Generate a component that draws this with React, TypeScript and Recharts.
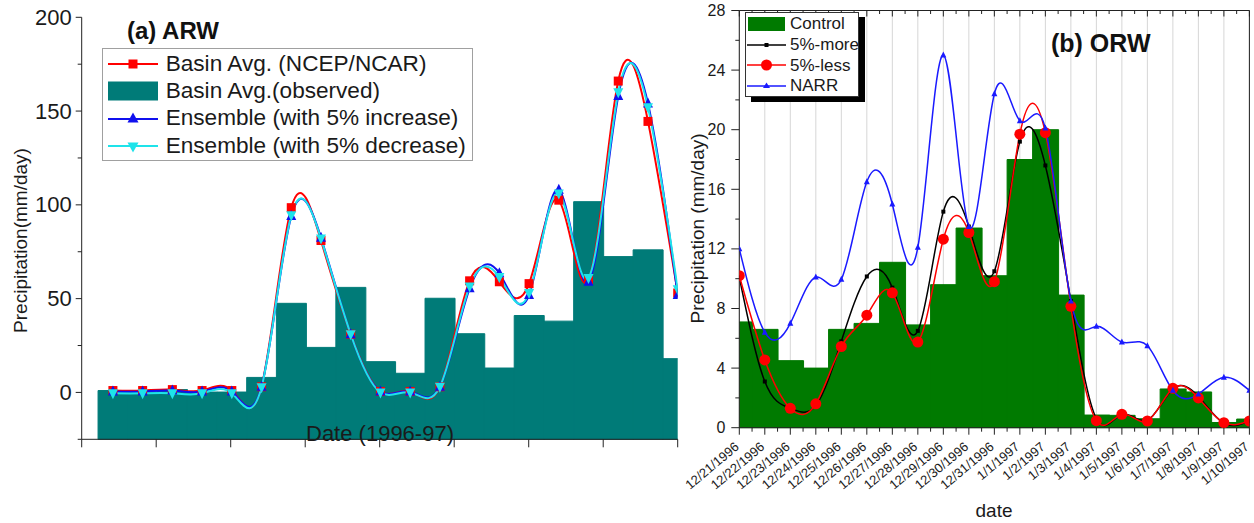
import { ComposedChart, Bar, Line, XAxis, YAxis, CartesianGrid, Legend, Label } from 'recharts';

// ---- panel (a) ARW: 20 daily values, x is the day index ----
const OBS_A = [1, 0.3, 1.5, 0.2, 0.2, 8, 47.5, 24, 56, 16.4, 10.2, 50.2, 31.3, 13, 41, 38, 101.7, 72.4, 76, 18];
const NCEP_A = [1, 1, 1.5, 1, 1, 3, 98.5, 81, 31, 0.5, 0.5, 3, 59.5, 59, 58, 102.5, 60, 166, 144.5, 53];
const INC_A = [0.5, 0.5, 1, 0.5, 0.5, 3, 94, 82.5, 31, 0.5, 0.5, 3, 55.5, 63.5, 52, 108, 59, 158, 154, 52];
const DEC_A = [-0.5, -0.5, -0.5, -0.5, -0.5, 2.7, 94.5, 82, 31, 0, 0, 3, 56.5, 61.5, 53, 106, 61, 160, 152, 55];

// ---- panel (b) ORW ----
const DATES_B = [
  '12/21/1996', '12/22/1996', '12/23/1996', '12/24/1996', '12/25/1996', '12/26/1996', '12/27/1996',
  '12/28/1996', '12/29/1996', '12/30/1996', '12/31/1996', '1/1/1997', '1/2/1997', '1/3/1997',
  '1/4/1997', '1/5/1997', '1/6/1997', '1/7/1997', '1/8/1997', '1/9/1997', '1/10/1997',
];
const CONTROL_B = [7.1, 6.6, 4.5, 4.0, 6.6, 7.0, 11.1, 6.9, 9.6, 13.4, 10.2, 18.0, 20.0, 8.9, 0.85, 0.83, 0.6, 2.6, 2.4, 0.35, 0.58];
const MORE_B = [10.1, 3.1, 1.3, 1.5, 5.8, 10.15, 9.4, 6.5, 14.5, 13.5, 10.5, 19.2, 17.6, 8.5, 0.6, 0.9, 0.5, 2.6, 2.1, 0.3, 0.45];
const LESS_B = [10.2, 4.55, 1.3, 1.6, 5.45, 7.55, 9.05, 5.75, 12.65, 13.1, 9.8, 19.7, 19.8, 8.15, 0.47, 0.9, 0.45, 2.64, 2.0, 0.34, 0.45];
const NARR_B = [12.0, 6.4, 7.0, 10.1, 9.95, 16.5, 15.0, 12.1, 25.0, 13.5, 22.4, 20.6, 20.1, 8.5, 6.8, 5.75, 5.5, 2.5, 2.26, 3.38, 2.5];

const A_Y_MIN = -25;
const A_Y_TICKS = [-25, 0, 25, 50, 75, 100, 125, 150, 175, 200];
const A_X_TICKS = [-1.05, 1.456, 3.963, 6.469, 8.975, 11.481, 13.988, 16.494, 19];
const B_Y_TICKS = [0, 2, 4, 6, 8, 10, 12, 14, 16, 18, 20, 22, 24, 26, 28];
const B_X_TICKS = DATES_B.map((_, i) => i);

const FONT = "'Liberation Sans', Arial, sans-serif";
const AXIS = '#222';
const TEXT = '#1a1a1a';
const TEAL = '#007b78';
const GREEN = '#007a00';
const CYAN = '#1ee3ea';
const BLUE_A = '#1010ee';
const BLUE_B = '#1a1aff';

const B_PLOT_W = 510.1;
const STEP_B = B_PLOT_W / 20;

const dataA = OBS_A.map((obs, i) => ({ i, obs, ncep: NCEP_A[i], inc: INC_A[i], dec: DEC_A[i] }));
const dataB = CONTROL_B.map((control, i) => ({ i, control, more: MORE_B[i], less: LESS_B[i], narr: NARR_B[i] }));

// marker shapes
const square = (color: string, s: number) => (p: any) => (
  <rect key={`sq-${color}-${p.index}`} x={p.cx - s / 2} y={p.cy - s / 2} width={s} height={s} fill={color} />
);
const triUp = (color: string, s: number) => (p: any) => (
  <polygon key={`tu-${color}-${p.index}`}
    points={`${p.cx},${p.cy - s * 0.6} ${p.cx - s / 2},${p.cy + s * 0.4} ${p.cx + s / 2},${p.cy + s * 0.4}`} fill={color} />
);
const triDown = (color: string, s: number) => (p: any) => (
  <polygon key={`td-${color}-${p.index}`}
    points={`${p.cx},${p.cy + s * 0.6} ${p.cx - s / 2},${p.cy - s * 0.4} ${p.cx + s / 2},${p.cy - s * 0.4}`} fill={color} />
);
const circle = (color: string, r: number) => (p: any) => (
  <circle key={`ci-${color}-${p.index}`} cx={p.cx} cy={p.cy} r={r} fill={color} />
);

const YTickA = ({ x, y, payload }: any) => {
  const major = payload.value % 50 === 0;
  return (
    <g>
      <line x1={x - (major ? 6 : 4)} x2={x} y1={y} y2={y} stroke={AXIS} />
      {major && (
        <text x={x - 10} y={y} textAnchor="end" dominantBaseline="central" fontSize={22} fill={TEXT} fontFamily={FONT}>
          {payload.value}
        </text>
      )}
    </g>
  );
};

const YTickB = ({ x, y, payload }: any) => {
  const major = payload.value % 4 === 0;
  return (
    <g>
      <line x1={x - (major ? 8 : 4)} x2={x} y1={y} y2={y} stroke={AXIS} />
      {major && (
        <text x={x - 14} y={y} textAnchor="end" dominantBaseline="central" fontSize={16} fill={TEXT} fontFamily={FONT}>
          {payload.value}
        </text>
      )}
    </g>
  );
};

const YTickBRight = ({ x, y, payload }: any) => {
  const major = payload.value % 4 === 0;
  return <line x1={x - (major ? 7 : 4)} x2={x} y1={y} y2={y} stroke={AXIS} />;
};

const XTickB = ({ x, y, payload }: any) => {
  const i = payload.value;
  const tx = x + 0.5;
  const ty = y + 20.5;
  return (
    <g>
      <line x1={x} x2={x} y1={y} y2={y + 7} stroke={AXIS} />
      {i < 20 && <line x1={x + STEP_B / 2} x2={x + STEP_B / 2} y1={y} y2={y + 4} stroke={AXIS} />}
      <text x={tx} y={ty} textAnchor="end" transform={`rotate(-40, ${tx}, ${ty})`} fontSize={13} fill={TEXT} fontFamily={FONT}>
        {DATES_B[i]}
      </text>
    </g>
  );
};

const XTickBTop = ({ x, y, payload }: any) => (
  <g>
    <line x1={x} x2={x} y1={y} y2={y + 6} stroke={AXIS} />
    {payload.value < 20 && <line x1={x + STEP_B / 2} x2={x + STEP_B / 2} y1={y} y2={y + 3.5} stroke={AXIS} />}
  </g>
);

const LegendA = () => {
  const rows = [
    { label: 'Basin Avg. (NCEP/NCAR)', kind: 'line', color: '#ff0000', mark: 'sq' },
    { label: 'Basin Avg.(observed)', kind: 'bar', color: TEAL, mark: '' },
    { label: 'Ensemble (with 5% increase)', kind: 'line', color: BLUE_A, mark: 'up' },
    { label: 'Ensemble (with 5% decrease)', kind: 'line', color: CYAN, mark: 'down' },
  ];
  return (
    <div style={{ width: 371, height: 113, boxSizing: 'border-box', border: '1.5px solid #a0a0a0', background: '#fff', paddingTop: 1 }}>
      {rows.map((r) => (
        <div key={r.label} style={{ display: 'flex', alignItems: 'center', height: 27.3 }}>
          <svg width={63} height={24} style={{ flex: 'none' }}>
            {r.kind === 'bar' ? (
              <rect x={5} y={2.5} width={50} height={19} fill={r.color} />
            ) : (
              <g>
                <line x1={5} x2={55} y1={12} y2={12} stroke={r.color} strokeWidth={2.2} />
                {r.mark === 'sq' && <rect x={25.5} y={7.5} width={9} height={9} fill={r.color} />}
                {r.mark === 'up' && <polygon points="30,5.5 24.5,15.5 35.5,15.5" fill={r.color} />}
                {r.mark === 'down' && <polygon points="30,18.5 24.5,8.5 35.5,8.5" fill={r.color} />}
              </g>
            )}
          </svg>
          <span style={{ fontFamily: FONT, fontSize: 22.6, color: TEXT, whiteSpace: 'nowrap', lineHeight: 1 }}>{r.label}</span>
        </div>
      ))}
    </div>
  );
};

const LegendB = () => {
  const rows = [
    { label: 'Control', kind: 'bar', color: GREEN },
    { label: '5%-more', kind: 'sq', color: '#000' },
    { label: '5%-less', kind: 'ci', color: '#ff0000' },
    { label: 'NARR', kind: 'up', color: BLUE_B },
  ];
  return (
    <div style={{ width: 114, height: 85, boxSizing: 'border-box', border: '1px solid #333', background: '#fff', boxShadow: '6px 5px 0 #000', paddingTop: 0.5 }}>
      {rows.map((r) => (
        <div key={r.label} style={{ display: 'flex', alignItems: 'center', height: 20.7 }}>
          <svg width={44} height={18} style={{ flex: 'none' }}>
            {r.kind === 'bar' ? (
              <rect x={2} y={2} width={37} height={14} fill={r.color} />
            ) : (
              <g>
                <line x1={1} x2={40} y1={9} y2={9} stroke={r.color} strokeWidth={1.5} />
                {r.kind === 'sq' && <rect x={18.5} y={7} width={4} height={4} fill={r.color} />}
                {r.kind === 'ci' && <circle cx={20.5} cy={9} r={5.5} fill={r.color} />}
                {r.kind === 'up' && <polygon points="20.5,5.5 17,11 24,11" fill={r.color} />}
              </g>
            )}
          </svg>
          <span style={{ fontFamily: FONT, fontSize: 17, color: TEXT, whiteSpace: 'nowrap', lineHeight: 1 }}>{r.label}</span>
        </div>
      ))}
    </div>
  );
};

const ChartA = () => (
  <ComposedChart width={700} height={523} data={dataA} barCategoryGap={0}
    margin={{ top: 17.3, right: 22.3, bottom: 53.7, left: 0 }}>
    <XAxis type="number" dataKey="i" domain={[-1.05, 19]} allowDataOverflow ticks={A_X_TICKS} interval={0}
      tickFormatter={() => ''} tickSize={8} height={30} stroke={AXIS} />
    <YAxis type="number" domain={[A_Y_MIN, 200]} ticks={A_Y_TICKS} interval={0} width={81.7}
      tick={YTickA} tickLine={false} tickSize={0} tickMargin={0} axisLine={{ stroke: AXIS }}>
      <Label content={() => (
        <text x={20} y={240.5} transform="rotate(-90, 20, 240.5)" textAnchor="middle" dominantBaseline="central"
          fontSize={19} fill={TEXT} fontFamily={FONT}>Precipitation(mm/day)</text>
      )} />
    </YAxis>
    <Legend layout="horizontal" verticalAlign="middle" align="center" content={<LegendA />}
      wrapperStyle={{ position: 'absolute', left: 101.7, top: 48.3, width: 'auto', height: 'auto' }} />
    <Bar dataKey={(d: any) => [A_Y_MIN, d.obs]} fill={TEAL} stroke={TEAL} strokeWidth={1} isAnimationActive={false} />
    <Line type="natural" dataKey="ncep" stroke="#ff0000" strokeWidth={2} dot={square('#ff0000', 9)} activeDot={false} isAnimationActive={false} />
    <Line type="natural" dataKey="inc" stroke={BLUE_A} strokeWidth={2} dot={triUp(BLUE_A, 10)} activeDot={false} isAnimationActive={false} />
    <Line type="natural" dataKey="dec" stroke={CYAN} strokeWidth={2} dot={triDown(CYAN, 10)} activeDot={false} isAnimationActive={false} />
  </ComposedChart>
);

// chart (b) svg starts at x=660 of the page, plot area from x=739.3
const ChartB = () => (
  <ComposedChart width={594} height={523} data={dataB} barCategoryGap={0}
    margin={{ top: 9.5, right: 0.6, bottom: 35.3, left: 30 }}>
    <CartesianGrid vertical horizontal={false} stroke="#d6d6d6" strokeWidth={1} />
    <XAxis type="number" dataKey="i" domain={[0, 20]} allowDataOverflow ticks={B_X_TICKS} interval={0}
      tick={XTickB} tickLine={false} tickSize={0} tickMargin={0} height={60} axisLine={{ stroke: AXIS }}>
      <Label content={() => (
        <text x={334} y={510} textAnchor="middle" dominantBaseline="central" fontSize={19} fill={TEXT} fontFamily={FONT}>date</text>
      )} />
    </XAxis>
    <XAxis xAxisId="top" orientation="top" type="number" domain={[0, 20]} ticks={B_X_TICKS} interval={0}
      tick={XTickBTop} tickLine={false} tickSize={0} tickMargin={0} height={1} axisLine={{ stroke: AXIS }} />
    <YAxis type="number" domain={[0, 28]} ticks={B_Y_TICKS} interval={0} width={49.3}
      tick={YTickB} tickLine={false} tickSize={0} tickMargin={0} axisLine={{ stroke: AXIS }}>
      <Label content={() => (
        <text x={37} y={228.5} transform="rotate(-90, 37, 228.5)" textAnchor="middle" dominantBaseline="central"
          fontSize={19} fill={TEXT} fontFamily={FONT}>Precipitation (mm/day)</text>
      )} />
    </YAxis>
    <YAxis yAxisId="right" orientation="right" type="number" domain={[0, 28]} ticks={B_Y_TICKS} interval={0} width={4}
      tick={YTickBRight} tickLine={false} tickSize={0} tickMargin={0} axisLine={{ stroke: AXIS }} />
    <Legend layout="horizontal" verticalAlign="middle" align="center" content={<LegendB />}
      wrapperStyle={{ position: 'absolute', left: 85, top: 12, width: 'auto', height: 'auto' }} />
    <Bar dataKey="control" fill={GREEN} stroke={GREEN} strokeWidth={1} isAnimationActive={false} />
    <Line type="natural" dataKey="more" stroke="#000" strokeWidth={1.5} dot={square('#000', 4)} activeDot={false} isAnimationActive={false} />
    <Line type="natural" dataKey="less" stroke="#ff0000" strokeWidth={1.5} dot={circle('#ff0000', 5.5)} activeDot={false} isAnimationActive={false} />
    <Line type="natural" dataKey="narr" stroke={BLUE_B} strokeWidth={1.5} dot={triUp(BLUE_B, 6)} activeDot={false} isAnimationActive={false} />
  </ComposedChart>
);

export default function App() {
  return (
    <div style={{ position: 'absolute', left: 0, top: 0, width: 1254, height: 523, background: '#fff', overflow: 'hidden' }}>
      <div style={{ position: 'absolute', left: 0, top: 0 }}>
        <ChartA />
      </div>
      <div style={{ position: 'absolute', left: 660, top: 0 }}>
        <ChartB />
      </div>
      <svg width={1254} height={523} style={{ position: 'absolute', left: 0, top: 0, pointerEvents: 'none' }}>
        <text x={127} y={30} dominantBaseline="central" fontSize={24} fontWeight="bold" fill="#111" fontFamily={FONT}>(a) ARW</text>
        <text x={1051} y={43} dominantBaseline="central" fontSize={25} fontWeight="bold" fill="#111" fontFamily={FONT}>(b) ORW</text>
        <text x={380} y={433} textAnchor="middle" dominantBaseline="central" fontSize={22} fill={TEXT} fontFamily={FONT}>Date (1996-97)</text>
      </svg>
    </div>
  );
}
